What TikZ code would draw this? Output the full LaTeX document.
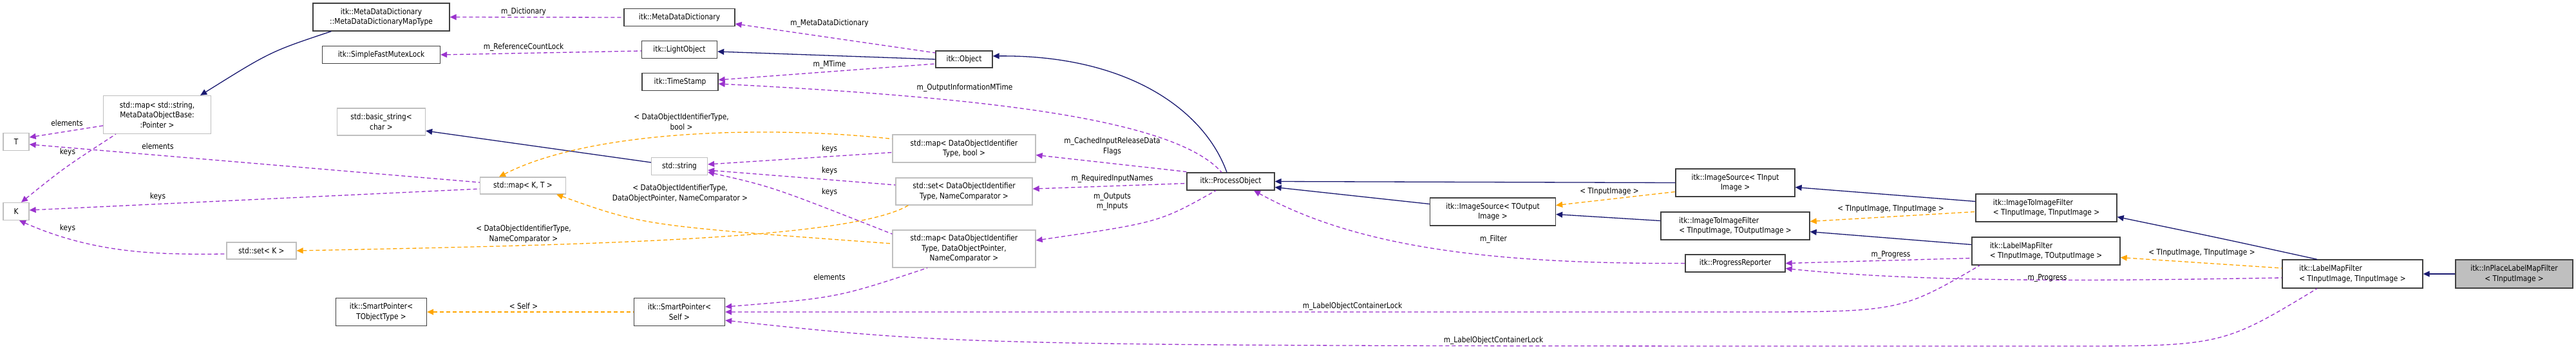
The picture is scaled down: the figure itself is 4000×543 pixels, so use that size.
\documentclass[tikz,border=0pt]{standalone}
\usepackage{fontspec}
\setmainfont{DejaVu Sans}[FakeStretch=0.86]
\usetikzlibrary{arrows.meta}
\definecolor{navyc}{HTML}{191970}
\definecolor{orangec}{HTML}{FFA500}
\definecolor{purplec}{HTML}{9A32CD}
\definecolor{greyb}{HTML}{BFBFBF}
\begin{document}
\begin{tikzpicture}[x=1pt,y=-1pt,
  every node/.style={font=\fontsize{12.3}{15.5}\selectfont, inner sep=0pt},
  itk/.style={draw=black!75, line width=1.3pt, align=center, fill=white},
  std/.style={draw=greyb, line width=1.3pt, align=center, fill=white},
  lbl/.style={align=center, fill=none},
  inh/.style={draw=navyc, line width=1.3pt, {Triangle[width=9pt,length=10pt]}-},
  tmpl/.style={draw=orangec, line width=1.3pt, dash pattern=on 6pt off 4pt, {Triangle[width=9pt,length=10pt]}-},
  use/.style={draw=purplec, line width=1.3pt, dash pattern=on 6pt off 4pt, {Triangle[width=9pt,length=10pt]}-}]
\useasboundingbox (0,0) rectangle (4000,543);
% nodes
\node[itk, minimum width=212pt, minimum height=43pt] (mapT) at (592,26.5) {itk::MetaDataDictionary\\::MetaDataDictionaryMapType};
\node[itk, minimum width=183pt, minimum height=27pt] (sfml) at (592,85) {itk::SimpleFastMutexLock};
\node[std, minimum width=167pt, minimum height=59pt] (strmap) at (244,178) {std::map< std::string,\\ MetaDataObjectBase:\\:Pointer >};
\node[std, minimum width=40pt, minimum height=27pt] (T) at (25,220) {T};
\node[std, minimum width=40pt, minimum height=27pt] (K) at (25,328) {K};
\node[std, minimum width=108pt, minimum height=26pt] (setK) at (406,389) {std::set< K >};
\node[std, minimum width=137pt, minimum height=42pt] (bstr) at (592,189) {std::basic\_string<\\ char >};
\node[itk, minimum width=141pt, minimum height=43pt] (spT) at (592,484) {itk::SmartPointer<\\ TObjectType >};
\node[itk, minimum width=172pt, minimum height=27pt] (mdd) at (1055,27) {itk::MetaDataDictionary};
\node[itk, minimum width=117pt, minimum height=27pt] (light) at (1055,77) {itk::LightObject};
\node[itk, minimum width=118pt, minimum height=27pt] (ts) at (1056,127) {itk::TimeStamp};
\node[std, minimum width=87pt, minimum height=27pt] (str) at (1055,258) {std::string};
\node[std, minimum width=133pt, minimum height=26pt] (mapKT) at (812,288) {std::map< K, T >};
\node[itk, minimum width=141pt, minimum height=43pt] (spS) at (1055,484) {itk::SmartPointer<\\ Self >};
\node[itk, minimum width=88pt, minimum height=26pt] (obj) at (1497,92) {itk::Object};
\node[std, minimum width=222pt, minimum height=43pt] (mbool) at (1497,230.5) {std::map< DataObjectIdentifier\\Type, bool >};
\node[std, minimum width=212pt, minimum height=42pt] (sset) at (1497,297) {std::set< DataObjectIdentifier\\Type, NameComparator >};
\node[std, minimum width=222pt, minimum height=58pt] (mdop) at (1497,386) {std::map< DataObjectIdentifier\\Type, DataObjectPointer,\\ NameComparator >};
\node[itk, minimum width=136pt, minimum height=27pt] (proc) at (1911,281.5) {itk::ProcessObject};
\node[itk, minimum width=195pt, minimum height=43pt] (isOut) at (2318,328.5) {itk::ImageSource< TOutput\\ Image >};
\node[itk, minimum width=185pt, minimum height=43pt] (isIn) at (2694.5,283.5) {itk::ImageSource< TInput\\ Image >};
\node[itk, minimum width=231pt, minimum height=43pt, align=left] (i2iOut) at (2694.5,350.5) {itk::ImageToImageFilter\\< TInputImage, TOutputImage >};
\node[itk, minimum width=155pt, minimum height=27pt] (prog) at (2694.5,408.5) {itk::ProgressReporter};
\node[itk, minimum width=219pt, minimum height=43pt, align=left] (i2iIn) at (3177.5,322.5) {itk::ImageToImageFilter\\< TInputImage, TInputImage >};
\node[itk, minimum width=230pt, minimum height=43pt, align=left] (lmfOut) at (3177,389.5) {itk::LabelMapFilter\\< TInputImage, TOutputImage >};
\node[itk, minimum width=218pt, minimum height=44pt, align=left] (lmfIn) at (3653,425) {itk::LabelMapFilter\\< TInputImage, TInputImage >};
\node[itk, fill=greyb, minimum width=182pt, minimum height=44pt] (inpl) at (3904,425) {itk::InPlaceLabelMapFilter\\< TInputImage >};
% inheritance
\draw[inh] ([xshift=-17pt]strmap.north east) .. controls (420,80) .. ([xshift=29pt]mapT.south west);
\draw[inh] ([yshift=-14pt]bstr.east) -- ([yshift=6pt]str.west);
\draw[inh] ([yshift=-3pt]light.east) -- (obj.west);
\draw[inh] ([yshift=5pt]obj.east) .. controls (1750,85) and (1870,170) .. ([xshift=-6pt]proc.north);
\draw[inh] (proc.east) -- (isIn.west);
\draw[inh] ([yshift=-9pt]proc.east) -- ([yshift=12pt]isOut.west);
\draw[inh] ([yshift=-4pt]isOut.east) -- ([yshift=8pt]i2iOut.west);
\draw[inh] ([yshift=-7pt]isIn.east) -- ([yshift=10pt]i2iIn.west);
\draw[inh] ([yshift=-9pt]i2iOut.east) -- ([yshift=10pt]lmfOut.west);
\draw[inh] ([yshift=-14pt]i2iIn.east) .. controls (3450,370) .. ([xshift=-55pt]lmfIn.north);
\draw[inh] (lmfIn.east) -- (inpl.west);
% template
\draw[tmpl] ([yshift=10pt]isOut.east) -- ([yshift=-14pt]isIn.west);
\draw[tmpl] ([yshift=7pt]i2iOut.east) -- ([yshift=-6pt]i2iIn.west);
\draw[tmpl] ([yshift=-10pt]lmfOut.east) -- ([yshift=9pt]lmfIn.west);
\draw[tmpl] ([xshift=-37pt]mapKT.north) .. controls (920,200) and (1200,195) .. ([yshift=15pt]mbool.west);
\draw[tmpl] ([xshift=-15pt]mapKT.south east) .. controls (1000,350) .. ([yshift=8pt]mdop.west);
\draw[tmpl] (setK.east) .. controls (900,380) and (1320,372) .. ([xshift=20pt]sset.south west);
\draw[tmpl] (spT.east) -- (spS.west);
% usage
\draw[use] (mapT.east) -- (mdd.west);
\draw[use] ([yshift=-10pt]mdd.east) -- ([yshift=10pt]obj.west);
\draw[use] (sfml.east) -- ([yshift=-2pt]light.west);
\draw[use] ([yshift=3pt]ts.east) -- ([yshift=-7pt]obj.west);
\draw[use] ([yshift=-3pt]ts.east) .. controls (1500,150) and (1820,180) .. ([xshift=-14pt]proc.north);
\draw[use] ([yshift=7pt]T.east) -- ([yshift=-17pt]strmap.west);
\draw[use] ([xshift=8pt]K.north) .. controls (100,260) .. ([xshift=20pt]strmap.south west);
\draw[use] ([yshift=-4pt]T.east) -- ([yshift=5pt]mapKT.west);
\draw[use] ([yshift=2pt]K.east) -- ([yshift=-5pt]mapKT.west);
\draw[use] ([xshift=5pt]K.south) .. controls (150,395) and (250,395) .. ([yshift=-5pt]setK.west);
\draw[use] ([yshift=3pt]str.east) -- ([yshift=-6pt]mbool.west);
\draw[use] ([yshift=-6pt]str.east) -- ([yshift=10pt]sset.west);
\draw[use] ([yshift=-9pt]str.east) .. controls (1200,290) .. ([yshift=23pt]mdop.west);
\draw[use] ([yshift=-10pt]mbool.east) -- ([yshift=15pt]proc.west);
\draw[use] ([yshift=4pt]sset.east) -- ([yshift=-3pt]proc.west);
\draw[use] ([yshift=13pt]mdop.east) .. controls (1800,345) .. ([xshift=-23pt]proc.south);
\draw[use] ([yshift=8pt]spS.east) .. controls (1300,462) .. ([xshift=-57pt]mdop.south);
\draw[use] ([xshift=36pt]proc.south) .. controls (2100,380) and (2300,410) .. (prog.west);
\draw[use] (prog.east) -- ([yshift=-11pt]lmfOut.west);
\draw[use] ([yshift=-8pt]prog.east) .. controls (3000,440) and (3300,435) .. ([yshift=-6pt]lmfIn.west);
\coordinate (lk1) at (2700,484);
\draw[use] (spS.east) -- (lk1) .. controls (2950,484) .. ([xshift=13pt]lmfOut.south west);
\coordinate (lk2) at (3200,537);
\draw[use] ([yshift=-13pt]spS.east) .. controls (1500,537) .. (lk2) .. controls (3450,537) .. ([xshift=-55pt]lmfIn.south);
% labels
\node[lbl] (l1) at (104,191) {elements};
\node[lbl] (l2) at (105,236) {keys};
\node[lbl] (l3) at (245,227) {elements};
\node[lbl] (l4) at (245,305) {keys};
\node[lbl] (l5) at (105,354) {keys};
\node[lbl] (l6) at (813,18) {m\_Dictionary};
\node[lbl] (l7) at (813,73) {m\_ReferenceCountLock};
\node[lbl] (l8) at (1288,36) {m\_MetaDataDictionary};
\node[lbl] (l9) at (1288,100) {m\_MTime};
\node[lbl] (l10) at (1058,189) {< DataObjectIdentifierType,\\ bool >};
\node[lbl] (l11) at (1288,231) {keys};
\node[lbl] (l12) at (1288,265) {keys};
\node[lbl] (l13) at (1288,298) {keys};
\node[lbl] (l14) at (1056,300) {< DataObjectIdentifierType,\\DataObjectPointer, NameComparator >};
\node[lbl] (l15) at (813,363) {< DataObjectIdentifierType,\\NameComparator >};
\node[lbl] (l16) at (813,475) {< Self >};
\node[lbl] (l17) at (1288,430) {elements};
\node[lbl] (l18) at (1498,136) {m\_OutputInformationMTime};
\node[lbl] (l19) at (1727,227) {m\_CachedInputReleaseData\\Flags};
\node[lbl] (l20) at (1727,277) {m\_RequiredInputNames};
\node[lbl] (l21) at (1727,313) {m\_Outputs\\m\_Inputs};
\node[lbl] (l22) at (2100,475) {m\_LabelObjectContainerLock};
\node[lbl] (l23) at (2319,528) {m\_LabelObjectContainerLock};
\node[lbl] (l24) at (2499,297) {< TInputImage >};
\node[lbl] (l25) at (2319,371) {m\_Filter};
\node[lbl] (l26) at (2936,324) {< TInputImage, TInputImage >};
\node[lbl] (l27) at (2936,395) {m\_Progress};
\node[lbl] (l28) at (3179,431) {m\_Progress};
\node[lbl] (l29) at (3419,392) {< TInputImage, TInputImage >};
\end{tikzpicture}
\end{document}
